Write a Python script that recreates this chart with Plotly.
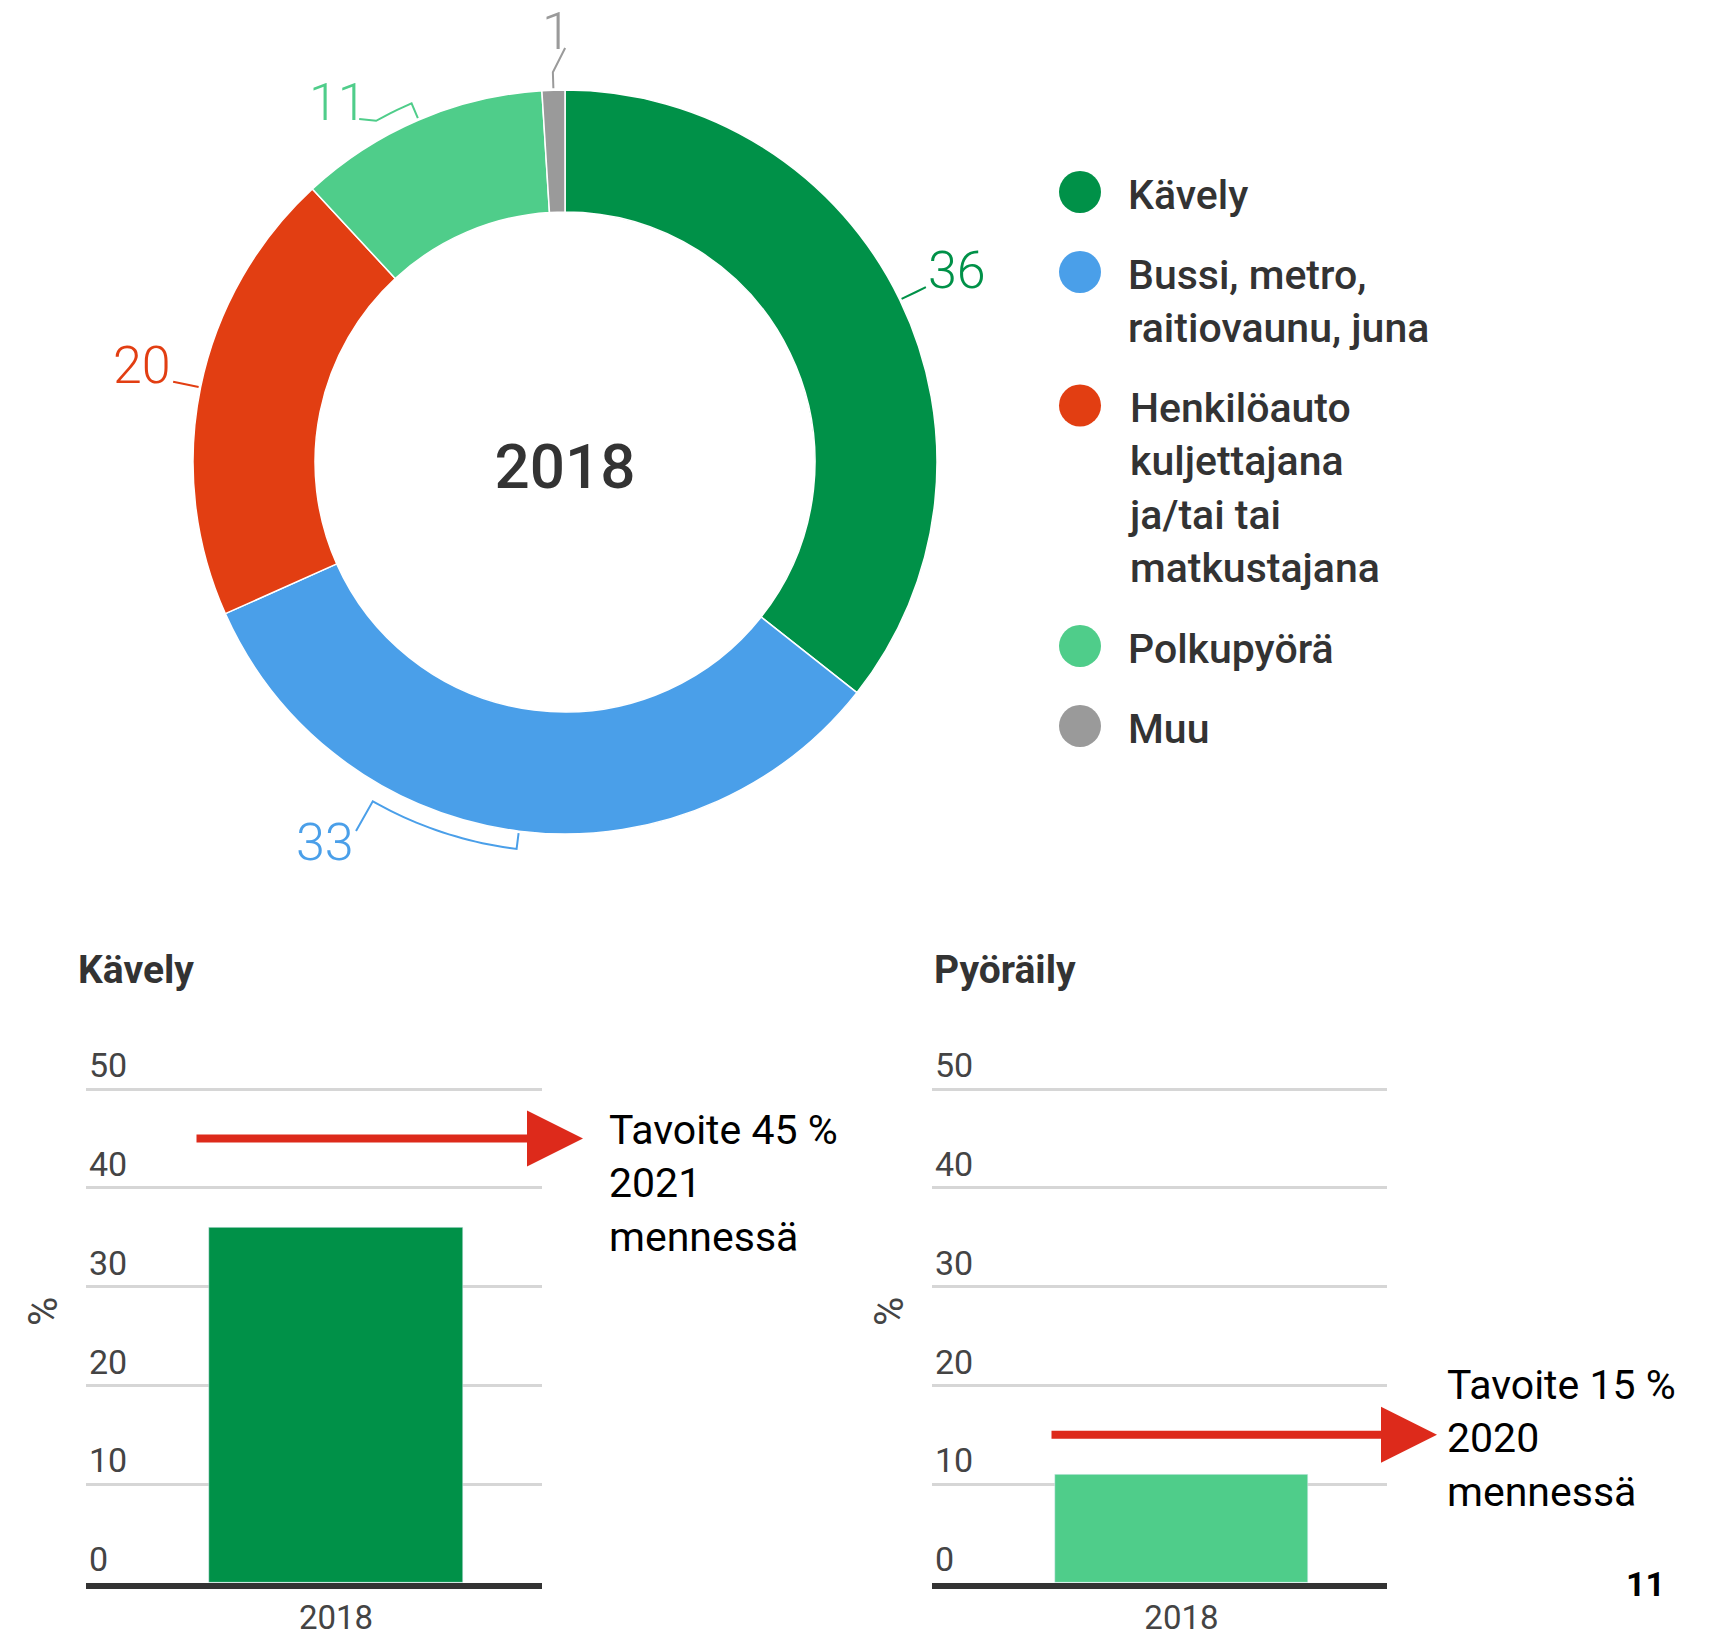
import math
import textwrap

import plotly.graph_objects as go

# donut: travel mode shares 2018 (%)
modes = ["Kävely", "Bussi, metro, raitiovaunu, juna",
         "Henkilöauto kuljettajana ja/tai tai matkustajana", "Polkupyörä", "Muu"]
shares_2018 = [36, 33, 20, 11, 1]
mode_colors = ["#009148", "#4a9fe9", "#e23e12", "#4fcd8a", "#9a9a9a"]
donut_year = "2018"

# bar panels
bar_years = ["2018"]
walking_share = [36]
cycling_share = [11]
panel_titles = ["Kävely", "Pyöräily"]
panel_colors = ["#009148", "#4fcd8a"]
targets = [45, 15]
target_texts = ["Tavoite 45 %<br>2021<br>mennessä", "Tavoite 15 %<br>2020<br>mennessä"]
page_number = "11"

W, H = 1709, 1638
OFF = 8  # page body margin
FONT = "Roboto"
TXT = "#333333"
RED = "#dd2a1b"


def px(x):
    return (x - OFF) / W


def py(y):
    return 1 - (y - OFF) / H


fig = go.Figure()

# ---- donut ----
cx, cy, r_out = 565, 462, 372
fig.add_trace(go.Pie(
    labels=modes, values=shares_2018, sort=False, direction="clockwise", rotation=0,
    hole=0.672, textinfo="none", hoverinfo="label+value",
    marker=dict(colors=mode_colors, line=dict(color="white", width=1.5)),
    domain=dict(x=[px(cx - r_out), px(cx + r_out)], y=[py(cy + r_out), py(cy - r_out)]),
    title=dict(text=donut_year, position="middle center",
               font=dict(family=FONT, size=62, color=TXT, weight=500)),
    showlegend=False,
))

annotations = []
shapes = []


def polar(r, deg):
    a = math.radians(deg)
    return cx + r * math.sin(a), cy - r * math.cos(a)


# outside value labels with bracket-style leader lines
arc_nudge = [0, 22.4, 0, -5.8, 0]
end_nudge = [0, 0, 0, -2, 1.8]
end_r = [401, 424, 400, 400, 414]
lab_xshift = [0, 0, 0, 10, 8]
total = sum(shares_2018)
start = 0
for i, (val, col) in enumerate(zip(shares_2018, mode_colors)):
    mid = (start + val / 2) / total * 360
    start += val
    pts = [polar(r_out + 2, mid)]
    steps = max(1, int(abs(arc_nudge[i])))
    for k in range(steps + 1):
        pts.append(polar(r_out + 18, mid + arc_nudge[i] * k / steps))
    ex, ey = polar(end_r[i], mid + arc_nudge[i] + end_nudge[i])
    pts.append((ex, ey))
    path = "M" + " L".join(f"{px(x):.5f},{py(y):.5f}" for x, y in pts)
    shapes.append(dict(type="path", xref="paper", yref="paper", path=path,
                       line=dict(color=col, width=2)))
    upper = ey < cy
    annotations.append(dict(
        x=px(ex), y=py(ey), xref="paper", yref="paper",
        xanchor="left" if ex > cx + 5 else "right",
        yanchor="bottom" if upper else "middle", yshift=-16 if upper else -12,
        xshift=lab_xshift[i],
        text=str(val), showarrow=False,
        font=dict(family=FONT, size=52, color=col, weight=300)))

# legend drawn by hand (big dots, wrapped labels)
leg_y = 192
for name, col in zip(modes, mode_colors):
    lines = textwrap.wrap(name, width=17)
    shapes.append(dict(type="circle", xref="paper", yref="paper",
                       x0=px(1059), x1=px(1101), y0=py(leg_y - 21), y1=py(leg_y + 21),
                       fillcolor=col, line=dict(width=0)))
    annotations.append(dict(
        x=px(1126), y=py(leg_y - 23), xref="paper", yref="paper", xanchor="left", yanchor="top",
        text="<br>".join(lines), showarrow=False, align="left",
        font=dict(family=FONT, size=41, color=TXT, weight=500)))
    leg_y += len(lines) * 53.5 + 26.5

# ---- bar panels ----
panels = [
    dict(x0=86, x1=542, values=walking_share),
    dict(x0=932, x1=1387, values=cycling_share),
]
title_left = [76, 932]
text_left = [607, 1445]
text_shift = [-45, -4]
arrow_tail = [195, 1050]
arrow_head = [583, 1437]
y_bottom, unit = 1583, 9.88
y_max = 55
for i, p in enumerate(panels):
    n = "" if i == 0 else str(i + 1)
    fig.add_trace(go.Bar(x=bar_years, y=p["values"], width=1, marker_color=panel_colors[i],
                         xaxis="x" + n, yaxis="y" + n, showlegend=False,
                         hovertemplate="%{x}: %{y} %<extra></extra>"))
    span = p["x1"] - p["x0"]
    bw = 254
    fig.update_layout({
        "xaxis" + n: dict(domain=[px(p["x0"]), px(p["x1"])], anchor="y" + n, type="category",
                          range=[-250 / bw, 206 / bw], showline=True, linecolor=TXT,
                          linewidth=6, ticks="", showgrid=False,
                          tickfont=dict(family=FONT, size=33, color="#444444")),
        "yaxis" + n: dict(domain=[py(y_bottom), py(y_bottom - y_max * unit)], anchor="x" + n,
                          range=[0, y_max], tickvals=[0, 10, 20, 30, 40, 50],
                          ticklabelposition="inside top", showgrid=True,
                          gridcolor="#d6d6d6", gridwidth=3, zeroline=False, ticks="",
                          tickfont=dict(family=FONT, size=34, color="#444444"),
                          title=dict(text="%", standoff=18,
                                     font=dict(family=FONT, size=40, color="#444444"))),
    })
    annotations.append(dict(
        x=px(title_left[i]), y=py(970), xref="paper", yref="paper", xanchor="left",
        yanchor="middle", text="<b>" + panel_titles[i] + "</b>", showarrow=False,
        font=dict(family=FONT, size=39, color=TXT)))
    # target arrow
    annotations.append(dict(
        x=(arrow_head[i] - p["x0"]) / span, y=targets[i], xref="x" + n + " domain", yref="y" + n,
        ax=arrow_tail[i] - arrow_head[i], ay=0, axref="pixel", ayref="pixel", text="",
        showarrow=True, arrowhead=2, arrowsize=1.4, arrowwidth=8, arrowcolor=RED, standoff=0))
    annotations.append(dict(
        x=(text_left[i] - p["x0"]) / span, y=targets[i], xref="x" + n + " domain", yref="y" + n,
        xanchor="left", yanchor="middle", yshift=text_shift[i], align="left",
        text=target_texts[i], showarrow=False,
        font=dict(family=FONT, size=41, color="#000000")))

annotations.append(dict(x=px(1645), y=py(1584), xref="paper", yref="paper",
                        xanchor="center", yanchor="middle", text="<b>" + page_number + "</b>",
                        showarrow=False, font=dict(family=FONT, size=34, color="#000000")))

fig.update_layout(
    width=W, height=H, margin=dict(l=0, r=0, t=0, b=0),
    paper_bgcolor="white", plot_bgcolor="white",
    annotations=annotations, shapes=shapes,
    bargap=0, font=dict(family=FONT, color=TXT),
)

fig.write_html("out.html")
